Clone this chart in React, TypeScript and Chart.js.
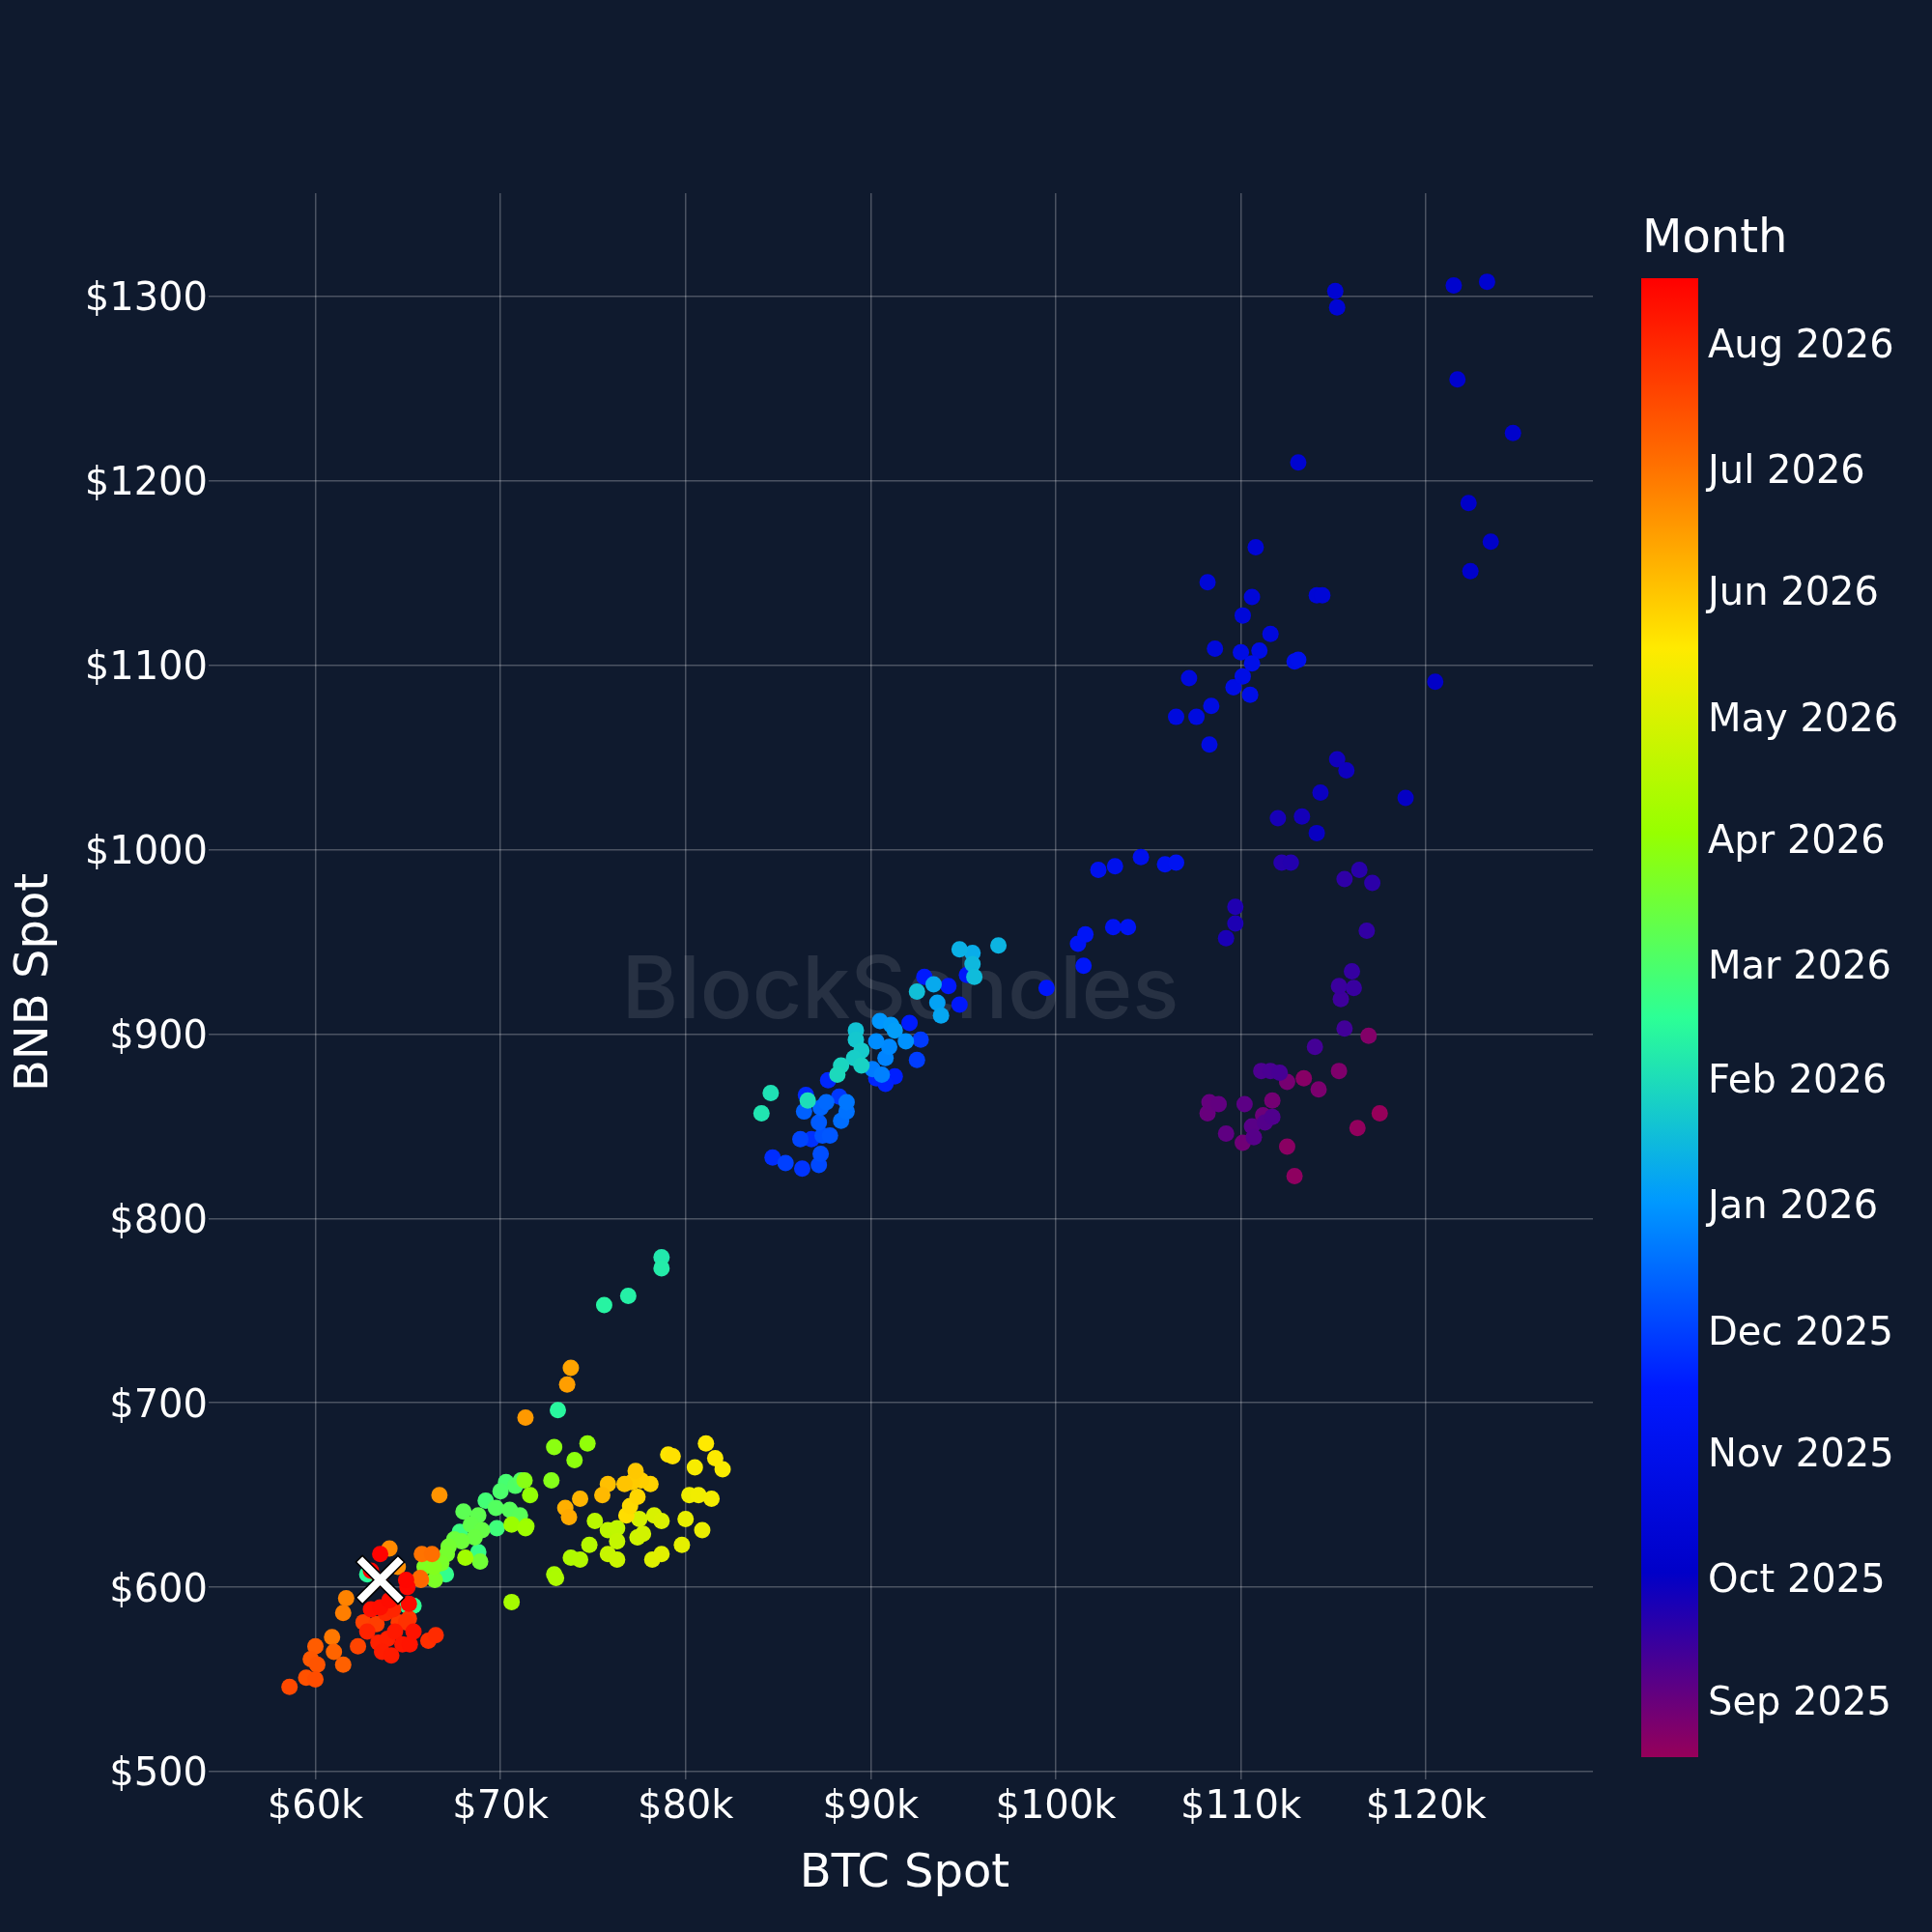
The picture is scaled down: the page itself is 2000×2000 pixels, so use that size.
import { useEffect, useRef } from "react";
import { Chart, registerables } from "chart.js";

Chart.register(...registerables);

// [BTC spot, BNB spot] pairs, roughly in date order inside each month
const aug2025: [number, number][] = [
  [117500, 857], [116300, 849], [112900, 823], [112500, 839], [113400, 876], [116900, 899],
  [115300, 880], [114200, 870], [112500, 874], [111700, 864], [110100, 841], [111200, 856],
];
const sep2025: [number, number][] = [
  [108200, 857], [108300, 863], [108800, 862], [109200, 846], [110200, 862], [110600, 850],
  [110700, 844], [111300, 852], [111700, 855], [111100, 880], [111600, 880], [112100, 879],
  [114000, 893], [115600, 903], [115400, 919], [115300, 926], [116100, 925], [116000, 934],
  [116800, 956], [115600, 984], [117100, 982], [116400, 989], [112200, 993], [112700, 993],
  [109700, 969], [109700, 960], [109200, 952], [112000, 1017], [113300, 1018], [115200, 1049],
  [115700, 1043], [114300, 1031], [114100, 1009],
];
const oct2025: [number, number][] = [
  [118900, 1028], [120500, 1091], [122300, 1188], [123500, 1167], [122400, 1151], [124700, 1226],
  [121700, 1255], [121500, 1306], [123300, 1308], [113100, 1210], [115100, 1303], [115200, 1294],
  [110800, 1164], [114100, 1138], [114400, 1138], [108200, 1145], [110600, 1137], [110100, 1127],
  [111600, 1117], [108600, 1109], [107200, 1093], [106500, 1072], [107600, 1072], [108300, 1057],
  [108400, 1078], [110000, 1107], [111000, 1108], [109600, 1088], [110100, 1094], [110500, 1084],
  [110600, 1101], [112900, 1102], [113100, 1103],
];
const nov2025: [number, number][] = [
  [104600, 996], [103200, 991], [102300, 989], [105900, 992], [106500, 993], [103100, 958],
  [103900, 958], [101200, 949], [101600, 954], [101500, 937], [99500, 925], [95200, 932],
  [94800, 916], [94200, 926], [92900, 931], [92100, 906], [91300, 877], [90800, 873],
  [90300, 876], [87700, 875], [86500, 867], [84700, 833], [86800, 843], [86300, 827],
  [88300, 866], [92700, 897], [92500, 886],
];
const dec2025: [number, number][] = [
  [85400, 830], [86200, 843], [87200, 829], [87300, 835], [87400, 845], [87800, 845],
  [87200, 852], [86400, 858], [87300, 860], [87600, 863], [88400, 853], [88700, 858],
  [88700, 863], [90100, 881], [90600, 878], [90800, 887], [91000, 893], [90300, 896],
  [91900, 896],
];
const jan2026: [number, number][] = [
  [90500, 907], [91100, 905], [91300, 902], [93600, 917], [93800, 910], [93400, 927],
  [95500, 944], [94800, 946], [96900, 948], [95500, 938], [95600, 931], [92500, 923],
  [89200, 902], [89200, 897], [89500, 891], [89100, 887], [89500, 883], [88400, 883],
  [88200, 878],
];
const feb2026: [number, number][] = [
  [86600, 864], [84600, 868], [84100, 857], [78700, 779], [78700, 773], [76900, 758],
  [75600, 753], [73100, 696], [62800, 607], [64970, 590], [65300, 590], [67050, 607],
  [68800, 619], [67800, 630], [69800, 632], [69200, 647], [70300, 657],
];
const mar2026: [number, number][] = [
  [70000, 652], [70800, 655], [71100, 658], [69750, 643], [70500, 642], [71050, 639],
  [68000, 641], [68800, 639], [68400, 634], [69000, 631], [68600, 627], [67500, 626],
  [67900, 625], [68900, 614], [67200, 622], [67100, 618], [66800, 613], [66450, 604],
  [65900, 611], [66400, 611], [72750, 658], [71300, 658], [72900, 676], [74000, 669],
  [74700, 678],
];
const apr2026: [number, number][] = [
  [71600, 650], [71400, 633], [70600, 634], [71350, 632], [68100, 616], [70600, 592],
  [72900, 607], [73000, 605], [73800, 616], [74300, 615], [74800, 623], [75100, 636],
  [75800, 631], [76300, 632], [76300, 625], [75800, 618], [76300, 615], [77400, 627],
  [77700, 629], [77500, 637],
];
const may2026: [number, number][] = [
  [78300, 639], [78700, 636], [78200, 615], [78700, 618], [79800, 623], [80000, 637],
  [80900, 631], [80200, 650], [80700, 650], [81400, 648], [80500, 665], [82000, 664],
  [81600, 670], [81100, 678], [79060, 672], [79300, 671], [76800, 639], [77000, 644],
  [77400, 649], [78100, 656], [77600, 658], [77100, 657], [77300, 663],
];
const jun2026: [number, number][] = [
  [76700, 656], [75800, 656], [75500, 650], [74300, 648], [73500, 643], [73700, 638],
  [73800, 719], [73600, 710], [71350, 692], [66700, 650], [64450, 611], [64000, 621],
  [61660, 594], [61500, 586], [60900, 573],
];
const jul2026: [number, number][] = [
  [65750, 618], [66300, 618], [65700, 604], [65660, 605], [61000, 565], [61500, 558],
  [60000, 568], [59750, 561], [60100, 558], [59500, 551], [60000, 550], [58600, 546],
  [62300, 568], [62600, 581], [63300, 580], [64500, 581], [65050, 583], [64900, 581],
  [66100, 571], [66500, 574],
];
const aug2026: [number, number][] = [
  [63800, 586], [64200, 588], [62800, 576], [63400, 570], [63900, 572], [63600, 565],
  [64100, 563], [64300, 576], [64700, 569], [65100, 569], [65300, 576], [63000, 588],
  [63500, 589], [64000, 593], [65050, 591], [64970, 600], [64900, 604], [63000, 609],
  [63500, 618], [63500, 604],
];

const latestSpot = { x: 63500, y: 604 };

const xTickValues = [60000, 70000, 80000, 90000, 100000, 110000, 120000];
const yTickValues = [500, 600, 700, 800, 900, 1000, 1100, 1200, 1300];

const monthTickLabels = [
  "Sep 2025", "Oct 2025", "Nov 2025", "Dec 2025", "Jan 2026", "Feb 2026",
  "Mar 2026", "Apr 2026", "May 2026", "Jun 2026", "Jul 2026", "Aug 2026",
];
const monthTickDates = [
  new Date(2025, 8, 1), new Date(2025, 9, 1), new Date(2025, 10, 1), new Date(2025, 11, 1),
  new Date(2026, 0, 1), new Date(2026, 1, 1), new Date(2026, 2, 1), new Date(2026, 3, 1),
  new Date(2026, 4, 1), new Date(2026, 5, 1), new Date(2026, 6, 1), new Date(2026, 7, 1),
];

const months = [
  { start: new Date(2025, 7, 18), days: 14, points: aug2025 },
  { start: new Date(2025, 8, 1), days: 30, points: sep2025 },
  { start: new Date(2025, 9, 1), days: 31, points: oct2025 },
  { start: new Date(2025, 10, 1), days: 30, points: nov2025 },
  { start: new Date(2025, 11, 1), days: 31, points: dec2025 },
  { start: new Date(2026, 0, 1), days: 31, points: jan2026 },
  { start: new Date(2026, 1, 1), days: 28, points: feb2026 },
  { start: new Date(2026, 2, 1), days: 31, points: mar2026 },
  { start: new Date(2026, 3, 1), days: 30, points: apr2026 },
  { start: new Date(2026, 4, 1), days: 31, points: may2026 },
  { start: new Date(2026, 5, 1), days: 30, points: jun2026 },
  { start: new Date(2026, 6, 1), days: 31, points: jul2026 },
  { start: new Date(2026, 7, 1), days: 17, points: aug2026 },
];

const rangeStart = new Date(2025, 7, 18).getTime();
const rangeEnd = new Date(2026, 7, 17).getTime();
const DAY = 86400000;

// plotly "Rainbow"
const rainbow: [number, number, number][] = [
  [150, 0, 90], [0, 0, 200], [0, 25, 255], [0, 152, 255], [44, 255, 150],
  [151, 255, 0], [255, 234, 0], [255, 111, 0], [255, 0, 0],
];

const BG = "#0f1a2e";
const FONT = "'DejaVu Sans', Verdana, sans-serif";

function colorAt(t: number) {
  const c = Math.min(1, Math.max(0, t)) * (rainbow.length - 1);
  const i = Math.min(rainbow.length - 2, Math.floor(c));
  const f = c - i;
  const a = rainbow[i];
  const b = rainbow[i + 1];
  const mix = (k: number) => Math.round(a[k] + (b[k] - a[k]) * f);
  return `rgb(${mix(0)}, ${mix(1)}, ${mix(2)})`;
}

const toT = (ms: number) => (ms - rangeStart) / (rangeEnd - rangeStart);

const CB_LEFT = 1699;
const CB_WIDTH = 59;
const CB_TOP = 288;
const CB_BOTTOM = 1819;

const backgroundPlugin = {
  id: "bg",
  beforeDraw(chart: Chart) {
    const { ctx, width, height } = chart;
    ctx.save();
    ctx.fillStyle = BG;
    ctx.fillRect(0, 0, width, height);
    ctx.restore();
  },
};

const watermarkPlugin = {
  id: "watermark",
  beforeDatasetsDraw(chart: Chart) {
    const { ctx } = chart;
    ctx.save();
    ctx.font = `500 100px Inter, Lato, sans-serif`;
    const w = ctx.measureText("BlockScholes").width;
    const size = (100 * 577) / w;
    ctx.font = `500 ${size}px Inter, Lato, sans-serif`;
    ctx.fillStyle = "rgba(255, 255, 255, 0.1)";
    ctx.textAlign = "center";
    ctx.textBaseline = "alphabetic";
    ctx.fillText("BlockScholes", 932, 1054);
    ctx.restore();
  },
};

const colorbarPlugin = {
  id: "colorbar",
  afterDraw(chart: Chart) {
    const { ctx } = chart;
    ctx.save();
    const grad = ctx.createLinearGradient(0, CB_BOTTOM, 0, CB_TOP);
    rainbow.forEach((_, i) => grad.addColorStop(i / (rainbow.length - 1), colorAt(i / (rainbow.length - 1))));
    ctx.fillStyle = grad;
    ctx.fillRect(CB_LEFT, CB_TOP, CB_WIDTH, CB_BOTTOM - CB_TOP);

    ctx.fillStyle = "#ffffff";
    ctx.textAlign = "left";
    ctx.textBaseline = "middle";
    ctx.font = `40px ${FONT}`;
    monthTickLabels.forEach((label, i) => {
      const t = toT(monthTickDates[i].getTime());
      const y = CB_BOTTOM - t * (CB_BOTTOM - CB_TOP);
      ctx.fillText(label, CB_LEFT + CB_WIDTH + 10, y + 4);
    });

    ctx.font = `48px ${FONT}`;
    ctx.fillText("Month", CB_LEFT + 1, 249);
    ctx.restore();
  },
};

export default function App() {
  const chartRef = useRef<HTMLCanvasElement>(null);
  const chartInstanceRef = useRef<Chart | null>(null);

  useEffect(() => {
    document.body.style.margin = "0";
    document.body.style.background = BG;
    if (!chartRef.current) return;

    if (chartInstanceRef.current) {
      chartInstanceRef.current.destroy();
    }

    const points: { x: number; y: number }[] = [];
    const colors: string[] = [];
    months.forEach((m) => {
      m.points.forEach(([btc, bnb], i) => {
        const when = m.start.getTime() + (i / m.points.length) * m.days * DAY;
        points.push({ x: btc, y: bnb });
        colors.push(colorAt(toT(when)));
      });
    });

    const gridColor = "rgba(255, 255, 255, 0.25)";

    chartInstanceRef.current = new Chart(chartRef.current, {
      type: "scatter",
      data: {
        datasets: [
          {
            data: [latestSpot],
            pointStyle: "crossRot",
            pointRadius: 30,
            pointHoverRadius: 30,
            pointBorderColor: "#ffffff",
            pointBorderWidth: 8,
            pointHoverBorderWidth: 8,
          },
          {
            data: [latestSpot],
            pointStyle: "crossRot",
            pointRadius: 31.5,
            pointHoverRadius: 31.5,
            pointBorderColor: "#000000",
            pointBorderWidth: 11,
            pointHoverBorderWidth: 11,
          },
          {
            data: points,
            pointRadius: 8.5,
            pointHoverRadius: 8.5,
            pointBackgroundColor: colors,
            pointBorderWidth: 0,
            pointHoverBorderWidth: 0,
          },
        ],
      },
      options: {
        animation: false,
        responsive: false,
        devicePixelRatio: 1,
        events: [],
        layout: {
          autoPadding: false,
          padding: { top: 200, right: 351, bottom: 0, left: 0 },
        },
        plugins: {
          legend: { display: false },
          tooltip: { enabled: false },
        },
        scales: {
          x: {
            type: "linear",
            min: 54650,
            max: 129020,
            afterBuildTicks: (scale) => {
              scale.ticks = xTickValues.map((value) => ({ value }));
            },
            afterFit: (scale) => {
              scale.height = 166;
            },
            grid: { color: gridColor, lineWidth: 1.5, tickLength: 8, drawTicks: true },
            border: { display: false },
            ticks: {
              color: "#ffffff",
              font: { family: FONT, size: 40 },
              padding: 6,
              maxRotation: 0,
              callback: (v) => "$" + Number(v) / 1000 + "k",
            },
            title: {
              display: true,
              text: "BTC Spot",
              color: "#ffffff",
              font: { family: FONT, size: 48 },
              padding: { top: 0, bottom: 31 },
            },
          },
          y: {
            type: "linear",
            min: 500,
            max: 1356,
            afterBuildTicks: (scale) => {
              scale.ticks = yTickValues.map((value) => ({ value }));
            },
            afterFit: (scale) => {
              scale.width = 224;
            },
            grid: { color: gridColor, lineWidth: 1.5, tickLength: 8, drawTicks: true },
            border: { display: false },
            ticks: {
              color: "#ffffff",
              font: { family: FONT, size: 40 },
              padding: 1,
              labelOffset: 4,
              callback: (v) => "$" + v,
            },
            title: {
              display: true,
              text: "BNB Spot",
              color: "#ffffff",
              font: { family: FONT, size: 48 },
              padding: { top: 8, bottom: 0 },
            },
          },
        },
      },
      plugins: [backgroundPlugin, watermarkPlugin, colorbarPlugin],
    });

    return () => {
      if (chartInstanceRef.current) {
        chartInstanceRef.current.destroy();
        chartInstanceRef.current = null;
      }
    };
  }, []);

  return (
    <div style={{ width: 2000, height: 2000, overflow: "hidden", background: BG }}>
      <canvas ref={chartRef} width={2000} height={2000} style={{ display: "block" }}></canvas>
    </div>
  );
}
